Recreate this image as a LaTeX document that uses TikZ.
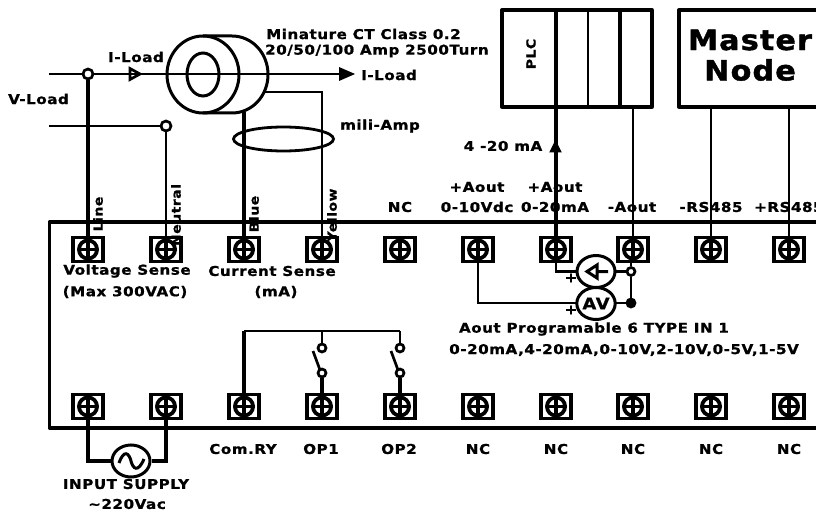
\documentclass[tikz,border=0pt]{standalone}
\usepackage{fontspec}
\setmainfont{DejaVu Sans}[BoldFont={DejaVu Sans Bold}]
\newfontfamily\lblfont{DejaVu Sans Bold}[LetterSpace=4,FakeStretch=1.12,FakeBold=1]
\newfontfamily\bigfont{DejaVu Sans Bold}[LetterSpace=4,FakeStretch=1.08,FakeBold=1.5]
\usetikzlibrary{arrows.meta,shapes.geometric}
\tikzset{
  x=1pt,y=-1pt,
  wire/.style={draw=black,line width=2.7pt},
  thickwire/.style={draw=black,line width=3.4pt},
  framebox/.style={draw=black,line width=3.3pt,line join=round},
  termbox/.style={draw=black,line width=3.2pt,rectangle,minimum width=30pt,minimum height=23.5pt,inner sep=0pt,fill=white},
  lbl/.style={font=\lblfont\fontsize{13.5}{15}\selectfont,inner sep=0pt,text=black},
  vlbl/.style={lbl,rotate=90,font=\lblfont\fontsize{12.5}{14}\selectfont},
  biglbl/.style={lbl,font=\bigfont\fontsize{28}{28}\selectfont},
  junction/.style={circle,draw=black,fill=white,line width=2.7pt,minimum size=10pt,inner sep=0pt},
  smalljunction/.style={junction,minimum size=8pt},
  meter/.style={ellipse,draw=black,fill=white,line width=3pt,inner sep=0pt,minimum width=38pt,minimum height=32pt},
}
\newcommand{\terminal}[3]{%
  \node[termbox] (#1) at (#2,#3) {};
  \fill[black] (#2,#3) circle (11pt);
  \fill[white] (#2,#3) circle (7pt);
  \draw[black,line width=3.2pt] (#2-8,#3) -- (#2+8,#3) (#2,#3-8) -- (#2,#3+8);
}
\begin{document}
\begin{tikzpicture}
\useasboundingbox (0,0) rectangle (816,513);
\clip (0,0) rectangle (816,513);
\fill[white] (0,0) rectangle (816,513);
% enclosure
\draw[framebox] (816,222) -- (49.5,222) -- (49.5,428) -- (816,428);
% terminals
\foreach \n/\x in {a/88,b/166,c/244,d/322,e/400,f/478,g/556,h/633,i/711,j/789}{
  \terminal{t\n}{\x}{249.5}
  \terminal{u\n}{\x}{406.5}
}
% current transformer
\draw[line width=3pt] (203,36) -- (232,36) .. controls (252,36) and (268,53) .. (268,74.5) .. controls (268,96) and (252,113) .. (232,113) -- (203,113);
\node[ellipse,draw=black,line width=3pt,minimum width=72pt,minimum height=77pt,inner sep=0pt] (ctfront) at (203,74.5) {};
\node[ellipse,draw=black,line width=3pt,minimum width=32pt,minimum height=43pt,inner sep=0pt] (cthole) at (203,74.5) {};
% load line
\coordinate (lineL) at (49,74);
\coordinate (lineR) at (345,74);
\coordinate (vL) at (49,126);
\draw[wire] (lineL) -- (lineR);
\draw[wire,line join=miter] (130,68.5) -- (140,74) -- (130,79.5) -- cycle;
\draw[draw=none,fill=black] (339,67) -- (355,74) -- (339,81) -- cycle;
\node[junction] (jL) at (88,74) {};
\node[junction] (jN) at (166,126) {};
\draw[wire] (vL) -- (jN);
\draw[thickwire] (jL) -- (ta.north);
\draw[wire] (jN) -- (tb.north);
\coordinate (ctB) at (244,112);
\coordinate (ctY) at (263,92);
\draw[thickwire] (ctB) -- (tc.north);
\draw[wire] (ctY) -- (322,92) -- (td.north);
\node[ellipse,draw=black,line width=2.8pt,minimum width=100pt,minimum height=24pt,inner sep=0pt] (mili) at (283.5,139) {};
% PLC
\node[framebox,draw,minimum width=150pt,minimum height=97pt,inner sep=0pt] (plc) at (577,58.5) {};
\draw[wire] (588,10) -- (588,107);
\draw[thickwire] (620,10) -- (620,107);
\draw[thickwire] (556,10) -- (tg.north);
\draw[draw=black,fill=black,line width=1pt] (555.5,141) -- (561,152) -- (550,152) -- cycle;
\draw[wire] (633,107) -- (th.north);
% Master node
\draw[framebox] (816,10) -- (679,10) -- (679,107) -- (816,107);
\draw[wire] (711,107) -- (ti.north);
\draw[wire] (789,107) -- (tj.north);
% meters
\node[smalljunction] (j1) at (631,271.5) {};
\node[smalljunction,fill=black] (j2) at (631,303) {};
\draw[wire] (j1) -- (j2);
\draw[wire] (tg.south) |- (577,271.5);
\draw[wire] (tf.south) |- (577,303);
\draw[wire] (631,262) -- (j1);
\draw[wire] (596,271.5) -- (j1);
\draw[wire] (596,303) -- (j2);
\node[meter] (mA) at (596,271.5) {};
\node[meter,lbl,font=\lblfont\fontsize{16}{16}\selectfont,draw=black,inner sep=0pt] (mV) at (596,303.5) {AV};
\draw[line width=3pt,line join=miter] (597,265) -- (587,271.5) -- (597,278) -- cycle (597,271.5) -- (608,271.5);
\node[lbl,font=\lblfont\fontsize{14}{14}\selectfont] at (571,278) {+};
\node[lbl,font=\lblfont\fontsize{14}{14}\selectfont] at (571,310) {+};
% relay
\draw[wire] (400,331) -- (244,331);
\draw[thickwire] (244,331) -- (uc.north);
\node[smalljunction] (s1a) at (322,348) {};
\node[smalljunction] (s1b) at (322,373) {};
\node[smalljunction] (s2a) at (400,348) {};
\node[smalljunction] (s2b) at (400,373) {};
\draw[wire] (322,331) -- (s1a);
\draw[wire] (400,331) -- (s2a);
\draw[thickwire] (s1b) -- (ud.north);
\draw[thickwire] (s2b) -- (ue.north);
\draw[wire] (313,351) -- (320,370);
\draw[wire] (391,351) -- (398,370);
% supply
\node[ellipse,draw=black,fill=white,line width=3pt,minimum width=38pt,minimum height=32pt,inner sep=0pt] (ac) at (131,461) {};
\draw[thickwire] (ua.south) |- (ac.west);
\draw[thickwire] (ub.south) |- (ac.east);
\draw[line width=3pt] (119,463) .. controls (124,449) and (129,453) .. (131,461) .. controls (133,469) and (138,473) .. (144,459);
% labels
\node[lbl] at (136,57) {I-Load};
\node[lbl] at (38.5,99) {V-Load};
\node[lbl,anchor=west] at (361,75) {I-Load};
\node[lbl,anchor=west] at (266,34) {Minature CT Class 0.2};
\node[lbl,anchor=west] at (265,51) {20/50/100 Amp 2500Turn};
\node[lbl,anchor=west] at (340,126) {mili-Amp};
\node[lbl] at (400,207) {NC};
\node[lbl] at (477,187) {+Aout};
\node[lbl] at (555,187) {+Aout};
\node[lbl] at (477,207) {0-10Vdc};
\node[lbl] at (555,207) {0-20mA};
\node[lbl] at (632,207) {-Aout};
\node[lbl] at (711,207) {-RS485};
\node[lbl,anchor=west] at (754,207) {+RS485};
\node[lbl] at (503,146) {4 -20 mA};
\node[vlbl] at (98,214) {Line};
\node[vlbl] at (176,215) {Neutral};
\node[vlbl] at (254,214) {Blue};
\node[vlbl] at (332,215) {Yellow};
\node[vlbl] at (531,54) {PLC};
\node[biglbl] at (750,40) {Master};
\node[biglbl] at (750,70) {Node};
\node[lbl] at (127,271) {Voltage Sense};
\node[lbl] at (125,292) {(Max 300VAC)};
\node[lbl] at (272,271) {Current Sense};
\node[lbl] at (276,292) {(mA)};
\node[lbl] at (594,329) {Aout Programable 6 TYPE IN 1};
\node[lbl] at (624,350) {0-20mA,4-20mA,0-10V,2-10V,0-5V,1-5V};
\node[lbl] at (243,449) {Com.RY};
\node[lbl] at (321,449) {OP1};
\node[lbl] at (399,449) {OP2};
\foreach \x in {478,556,633,711,789}{\node[lbl] at (\x,449) {NC};}
\node[lbl] at (126,484) {INPUT SUPPLY};
\node[lbl] at (127,504) {\textasciitilde220Vac};
\end{tikzpicture}
\end{document}
